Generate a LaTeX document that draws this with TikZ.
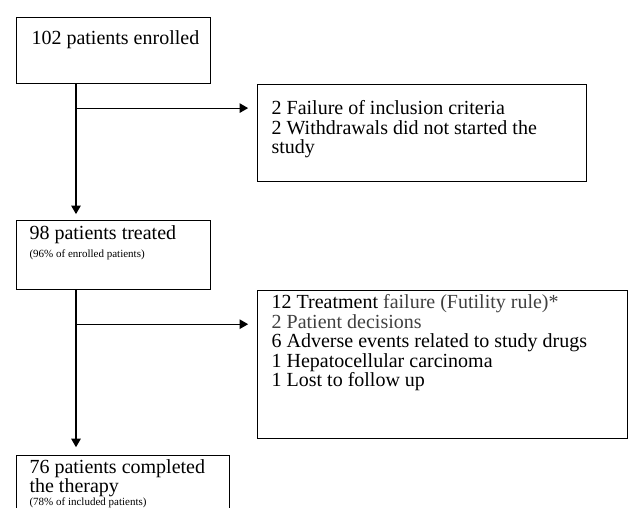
\documentclass[tikz,border=0pt]{standalone}
\usepackage{fontspec}
\setmainfont{Liberation Serif}
\usetikzlibrary{arrows.meta,positioning}
\definecolor{softgray}{gray}{0.25}
\setlength{\parindent}{0pt}
\setlength{\parskip}{0pt}
% left pad, top pad, box width, box height, text
\newcommand{\boxbody}[5]{\hspace*{#1}\parbox[t][#4][t]{\dimexpr#3-#1\relax}{\raggedright\vspace*{#2}#5}}
\tikzset{
    stage/.style={
           rectangle,
           draw=black,
           inner sep=0pt,
           anchor=north west,
           font=\fontsize{20}{19.5}\selectfont,
           },
}

\begin{document}
\begin{tikzpicture}[
  x=1pt,y=-1pt,
  ->,>={Triangle[length=8.5pt,width=9.5pt]},
  line width=1.1pt]
\useasboundingbox (0,0) rectangle (632,508);
\clip (0,0) rectangle (632,508);
\node[stage] (enrolled) at (16,17)
  {\boxbody{15pt}{13pt}{194pt}{66pt}{102 patients enrolled}};
\node[stage,right=46pt of enrolled.south east,anchor=north west] (excluded)
  {\boxbody{14pt}{16pt}{329pt}{97pt}{2 Failure of inclusion criteria\\2 Withdrawals did not started the\\study}};
\node[stage,below=136pt of enrolled.south west,anchor=north west] (treated)
  {\boxbody{13pt}{5pt}{194pt}{69pt}{98 patients treated\par{\fontsize{11}{18}\selectfont(96\% of enrolled patients)\par}}};
\node[stage,right=46pt of treated.south east,anchor=north west] (discontinued)
  {\boxbody{14pt}{4pt}{370pt}{148pt}{12 Treatment \textcolor{softgray}{failure (Futility rule)*}\\\textcolor{softgray}{2 Patient decisions}\\6 Adverse events related to study drugs\\1 Hepatocellular carcinoma\\1 Lost to follow up}};
\node[stage,below=165pt of treated.south west,anchor=north west] (completed)
  {\boxbody{13pt}{4pt}{213pt}{75pt}{{\fontsize{20}{18.5}\selectfont 76 patients completed\\the therapy\par}{\fontsize{11}{13}\selectfont(78\% of included patients)\par}}};

\coordinate (trunk1) at ([xshift=60pt]enrolled.south west);
\coordinate (fork1) at ([yshift=-24pt]trunk1);
\coordinate (trunk2) at ([xshift=60pt]treated.south west);
\coordinate (fork2) at ([yshift=-34pt]trunk2);

\draw[shorten >=6pt] (trunk1) -- (trunk1 |- treated.north);
\draw[shorten >=9pt] (fork1) -- (fork1 -| excluded.west);
\draw[shorten >=8pt] (trunk2) -- (trunk2 |- completed.north);
\draw[shorten >=9pt] (fork2) -- (fork2 -| discontinued.west);
\end{tikzpicture}
\end{document}
